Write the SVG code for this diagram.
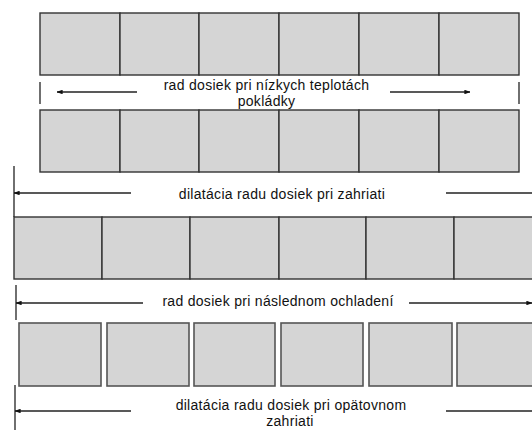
<svg xmlns="http://www.w3.org/2000/svg" width="532" height="430" viewBox="0 0 532 430">
  <style>
    .tile { fill: #d5d5d5; stroke: #333333; stroke-width: 1.4; }
    .tile-loose { fill: #d5d5d5; stroke: #555555; stroke-width: 1.6; }
    .lbl { font-family: "Liberation Sans", Arial, sans-serif; font-size: 14px; letter-spacing: 0.3px; fill: #111111; text-anchor: middle; }
    .ln { stroke: #222222; stroke-width: 1.3; fill: none; }
    .arr { stroke: #222222; stroke-width: 1.3; fill: none; marker-end: url(#head); }
  </style>
  <defs>
    <marker id="head" viewBox="0 0 8 6" refX="7.5" refY="3" markerWidth="6" markerHeight="4.5" markerUnits="userSpaceOnUse" orient="auto">
      <path d="M0,0 L8,3 L0,6 Z" fill="#111111"/>
    </marker>
  </defs>
  <rect width="532" height="430" fill="#ffffff"/>

  <!-- row 1: slabs laid at low temperature -->
  <g id="row1">
    <rect class="tile" x="40" y="13" width="80" height="62"/>
    <rect class="tile" x="120" y="13" width="79" height="62"/>
    <rect class="tile" x="199" y="13" width="80" height="62"/>
    <rect class="tile" x="279" y="13" width="80" height="62"/>
    <rect class="tile" x="359" y="13" width="80" height="62"/>
    <rect class="tile" x="439" y="13" width="80" height="62"/>
  </g>

  <g id="label1">
    <text class="lbl" x="266.5" y="90">rad dosiek pri nízkych teplotách<tspan x="266.5" dy="16">pokládky</tspan></text>
  </g>

  <!-- row 2 -->
  <g id="row2">
    <rect class="tile" x="40" y="110" width="80" height="62"/>
    <rect class="tile" x="120" y="110" width="79" height="62"/>
    <rect class="tile" x="199" y="110" width="80" height="62"/>
    <rect class="tile" x="279" y="110" width="80" height="62"/>
    <rect class="tile" x="359" y="110" width="80" height="62"/>
    <rect class="tile" x="439" y="110" width="80" height="62"/>
  </g>

  <g id="label2">
    <text class="lbl" x="282" y="199">dilatácia radu dosiek pri zahriati</text>
  </g>

  <!-- row 3: expanded row -->
  <g id="row3">
    <rect class="tile" x="14" y="217" width="88" height="62"/>
    <rect class="tile" x="102" y="217" width="88" height="62"/>
    <rect class="tile" x="190" y="217" width="89" height="62"/>
    <rect class="tile" x="279" y="217" width="87" height="62"/>
    <rect class="tile" x="366" y="217" width="88" height="62"/>
    <rect class="tile" x="454" y="217" width="88" height="62"/>
  </g>

  <g id="label3">
    <text class="lbl" x="278" y="306">rad dosiek pri následnom ochladení</text>
  </g>

  <!-- row 4: slabs with open joints -->
  <g id="row4">
    <rect class="tile-loose" x="19" y="323" width="82" height="63"/>
    <rect class="tile-loose" x="107" y="323" width="82" height="63"/>
    <rect class="tile-loose" x="194" y="323" width="81" height="63"/>
    <rect class="tile-loose" x="281" y="323" width="82" height="63"/>
    <rect class="tile-loose" x="369" y="323" width="83" height="63"/>
    <rect class="tile-loose" x="457" y="323" width="82" height="63"/>
  </g>

  <g id="label4">
    <text class="lbl" x="291" y="410">dilatácia radu dosiek pri opätovnom<tspan x="290" dy="16">zahriati</tspan></text>
  </g>

  <g id="connectors">
    <!-- row 1 extent -->
    <line class="ln" x1="40" y1="82" x2="40" y2="104"/>
    <line class="ln" x1="519" y1="82" x2="519" y2="104"/>
    <line class="arr" x1="137" y1="92" x2="57" y2="92"/>
    <line class="arr" x1="390" y1="92" x2="470" y2="92"/>

    <!-- expansion on heating -->
    <line class="ln" x1="14" y1="166" x2="14" y2="217"/>
    <line class="arr" x1="131" y1="193" x2="14" y2="193"/>
    <line class="ln" x1="446" y1="193" x2="532" y2="193"/>

    <!-- subsequent cooling -->
    <line class="ln" x1="16" y1="285" x2="16" y2="320"/>
    <line class="arr" x1="143" y1="303" x2="16" y2="303"/>
    <line class="arr" x1="409" y1="303" x2="532" y2="303"/>

    <!-- repeated heating -->
    <line class="ln" x1="15" y1="385" x2="15" y2="430"/>
    <line class="arr" x1="131" y1="411" x2="15" y2="411"/>
    <line class="ln" x1="446" y1="411" x2="532" y2="411"/>
  </g>
</svg>
